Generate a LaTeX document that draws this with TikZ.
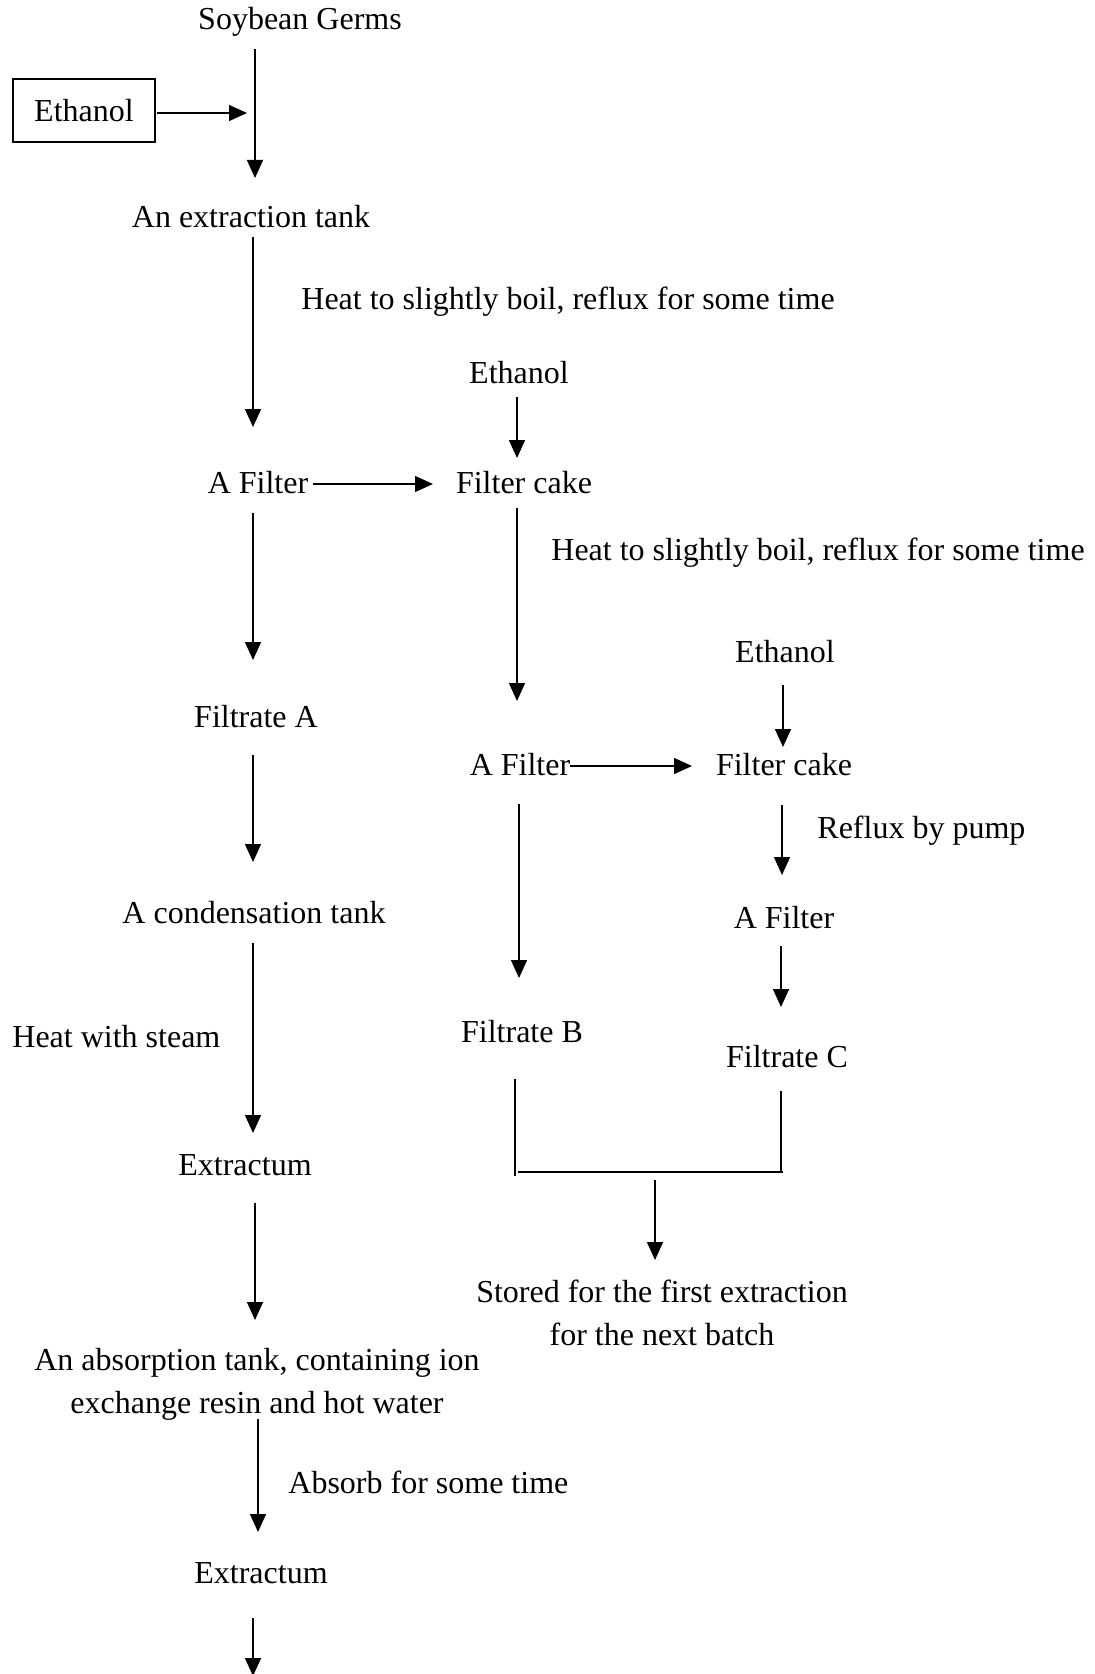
\documentclass[tikz,border=0pt]{standalone}
\usepackage{fontspec}
\setmainfont{Liberation Serif}
\usetikzlibrary{arrows.meta}
\begin{document}
\begin{tikzpicture}[x=0.5pt,y=-0.5pt,
  lbl/.style={anchor=base,inner sep=0pt,font=\fontsize{16pt}{21.5pt}\selectfont},
  lbll/.style={lbl,anchor=base west},
  arr/.style={line width=0.75pt,-{Triangle[length=9pt,width=8pt]}},
  ln/.style={line width=0.75pt},
  thick ln/.style={line width=1.1pt}]
\useasboundingbox (0,0) rectangle (1095,1674);
\clip (0,0) rectangle (1095,1674);

% left column
\node[lbl] (sg) at (300,30) {Soybean Germs};
\node[draw,line width=0.75pt,minimum width=71pt,minimum height=31.5pt,inner sep=0pt,
      font=\fontsize{16pt}{19pt}\selectfont] (eth1) at (84,110.5) {Ethanol};
\node[lbl] (ext) at (251,228) {An extraction tank};
\node[lbll] (heat1) at (301,310) {Heat to slightly boil, reflux for some time};
\node[lbl] (f1) at (258,493) {A Filter};
\node[lbl] (fa) at (256,727) {Filtrate A};
\node[lbl] (ct) at (254,923) {A condensation tank};
\node[lbll] (hs) at (12,1047) {Heat with steam};
\node[lbl] (ex1) at (245,1175) {Extractum};
\node[lbl,align=center] (abs) at (257,1413) {An absorption tank, containing ion\\exchange resin and hot water};
\node[lbll] (abf) at (288,1493) {Absorb for some time};
\node[lbl] (ex2) at (261,1583) {Extractum};

% middle column
\node[lbl] (eth2) at (519,384) {Ethanol};
\node[lbl] (fc1) at (524,493) {Filter cake};
\node[lbll] (heat2) at (551,560) {Heat to slightly boil, reflux for some time};
\node[lbl] (f2) at (520,775) {A Filter};
\node[lbl] (fb) at (522,1042) {Filtrate B};

% right column
\node[lbl] (eth3) at (785,662) {Ethanol};
\node[lbl] (fc2) at (784,775) {Filter cake};
\node[lbll] (rp) at (817,838) {Reflux by pump};
\node[lbl] (f3) at (784,928) {A Filter};
\node[lbl] (fcc) at (787,1067) {Filtrate C};
\node[lbl,align=center] (st) at (662,1345) {Stored for the first extraction\\for the next batch};

% connectors
\draw[arr] (255,49) coordinate (sgout) -- (255,178) coordinate (extin);
\draw[arr] (157,113) coordinate (eth1out) -- (247,113) coordinate (join1);
\draw[arr] (253,237) coordinate (extout) -- (253,427) coordinate (f1in);
\draw[arr] (517,397) coordinate (eth2out) -- (517,458) coordinate (fc1in);
\draw[arr] (313,484) coordinate (f1right) -- (433,484) coordinate (fc1left);
\draw[arr] (253,513) coordinate (f1out) -- (253,660) coordinate (fain);
\draw[arr] (517,508) coordinate (fc1out) -- (517,701) coordinate (f2in);
\draw[arr] (253,755) coordinate (faout) -- (253,862) coordinate (ctin);
\draw[arr] (253,943) coordinate (ctout) -- (253,1133) coordinate (ex1in);
\draw[arr] (255,1203) coordinate (ex1out) -- (255,1320) coordinate (absin);
\draw[arr] (258,1419) coordinate (absout) -- (258,1532) coordinate (ex2in);
\draw[arr] (253,1618) coordinate (ex2out) -- (253,1676) coordinate (nextin);

\draw[arr] (783,685) coordinate (eth3out) -- (783,747) coordinate (fc2in);
\draw[arr] (570,766) coordinate (f2right) -- (692,766) coordinate (fc2left);
\draw[arr] (782,805) coordinate (fc2out) -- (782,875) coordinate (f3in);
\draw[arr] (519,804) coordinate (f2out) -- (519,978) coordinate (fbin);
\draw[arr] (781,946) coordinate (f3out) -- (781,1007) coordinate (fccin);

% collecting bracket
\draw[ln] (515,1079) coordinate (fbout) -- (515,1176);
\draw[ln] (781,1091) coordinate (fccout) -- (781,1173);
\draw[thick ln] (518,1172) -- (783,1172);
\draw[arr] (655,1180) coordinate (bout) -- (655,1260) coordinate (stin);
\end{tikzpicture}
\end{document}
